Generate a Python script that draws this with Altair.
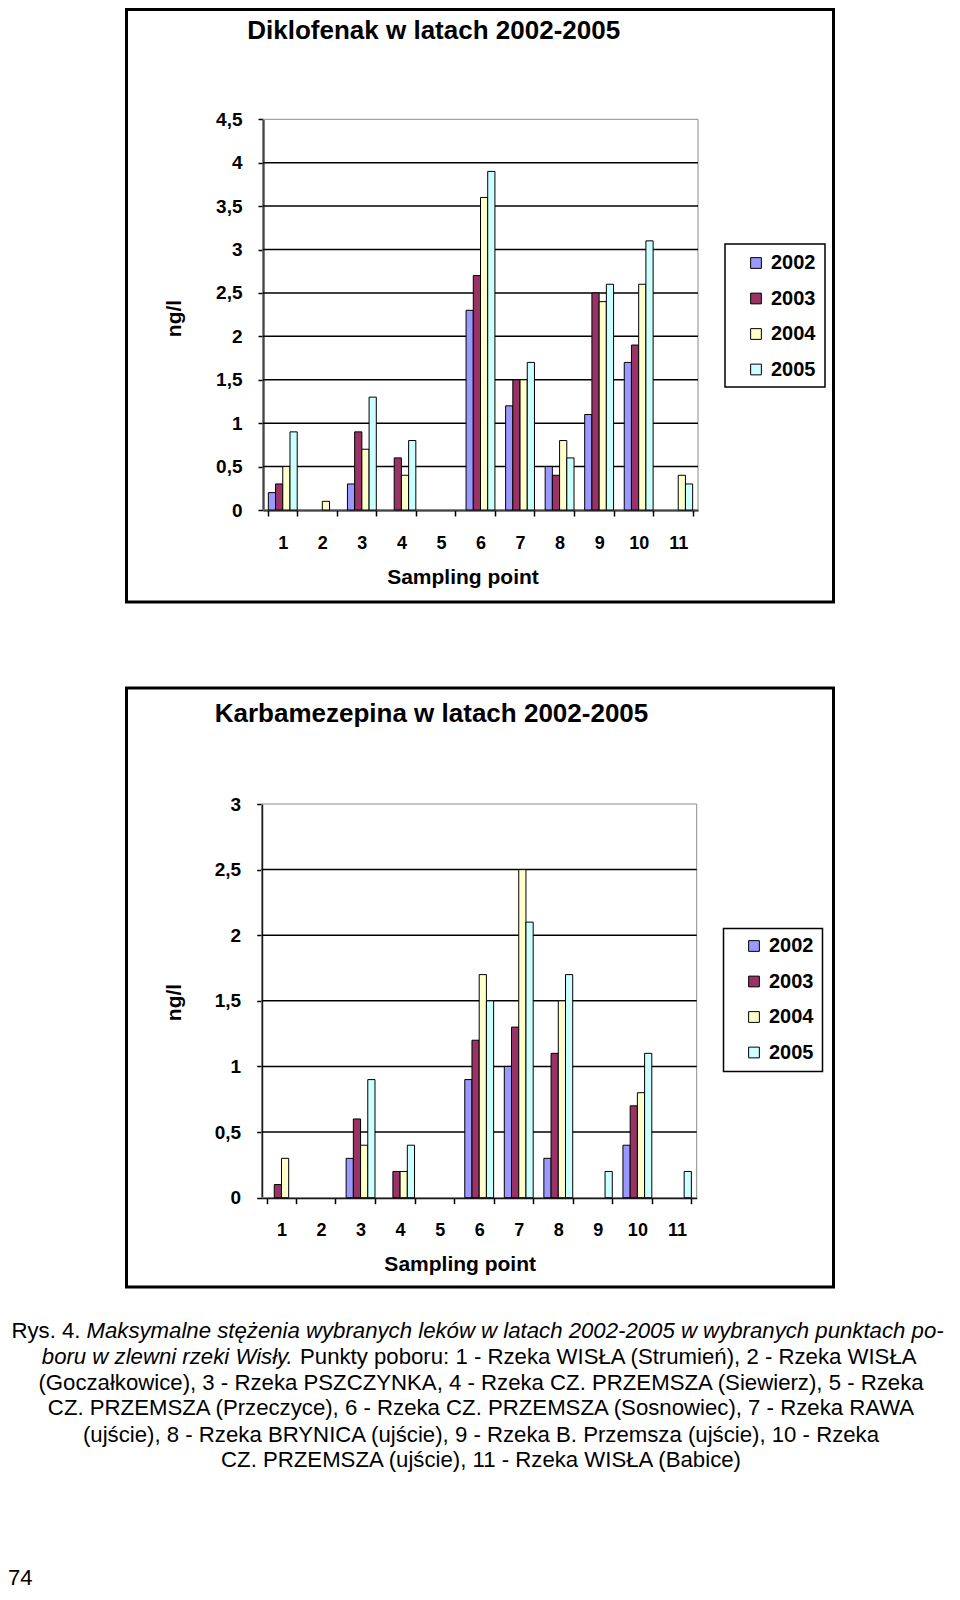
import altair as alt
import pandas as pd

# ---------------- data ----------------
points = ["1", "2", "3", "4", "5", "6", "7", "8", "9", "10", "11"]
years = ["2002", "2003", "2004", "2005"]
year_colors = ["#9999FF", "#993366", "#FFFFCC", "#CCFFFF"]

dik_2002 = [0.2, None, 0.3, None, None, 2.3, 1.2, 0.5, 1.1, 1.7, None]
dik_2003 = [0.3, None, 0.9, 0.6, None, 2.7, 1.5, 0.4, 2.5, 1.9, None]
dik_2004 = [0.5, 0.1, 0.7, 0.4, None, 3.6, 1.5, 0.8, 2.4, 2.6, 0.4]
dik_2005 = [0.9, None, 1.3, 0.8, None, 3.9, 1.7, 0.6, 2.6, 3.1, 0.3]

karb_2002 = [None, None, 0.3, None, None, 0.9, 1.0, 0.3, None, 0.4, None]
karb_2003 = [0.1, None, 0.6, 0.2, None, 1.2, 1.3, 1.1, None, 0.7, None]
karb_2004 = [0.3, None, 0.4, 0.2, None, 1.7, 2.5, 1.5, None, 0.8, None]
karb_2005 = [None, None, 0.9, 0.4, None, 1.5, 2.1, 1.7, 0.2, 1.1, 0.2]

dik_ticks = [0, 0.5, 1, 1.5, 2, 2.5, 3, 3.5, 4, 4.5]
karb_ticks = [0, 0.5, 1, 1.5, 2, 2.5, 3]
dik_grid = [0.5, 1, 1.5, 2, 2.5, 3, 3.5, 4]
karb_grid = [0.5, 1, 1.5, 2, 2.5]

title_dik = "Diklofenak w latach 2002-2005"
title_karb = "Karbamezepina w latach 2002-2005"
y_title = "ng/l"
x_title = "Sampling point"

cap1_a = "Rys. 4."
cap1_b = "Maksymalne stężenia wybranych leków w latach 2002-2005 w wybranych punktach po-"
cap2_a = "boru w zlewni rzeki Wisły."
cap2_b = "Punkty poboru: 1 - Rzeka WISŁA (Strumień), 2 - Rzeka WISŁA"
cap_rest = [
    "(Goczałkowice), 3 - Rzeka PSZCZYNKA, 4 - Rzeka CZ. PRZEMSZA (Siewierz), 5 - Rzeka",
    "CZ. PRZEMSZA (Przeczyce), 6 - Rzeka CZ. PRZEMSZA (Sosnowiec), 7 - Rzeka RAWA",
    "(ujście), 8 - Rzeka BRYNICA (ujście), 9 - Rzeka B. Przemsza (ujście), 10 - Rzeka",
    "CZ. PRZEMSZA (ujście), 11 - Rzeka WISŁA (Babice)",
]
page_no = "74"


def to_long(series):
    rows = []
    for yr, vals in zip(years, series):
        for p, v in zip(points, vals):
            if v is not None:
                rows.append({"point": p, "year": yr, "value": v})
    return pd.DataFrame(rows)


df_dik = to_long([dik_2002, dik_2003, dik_2004, dik_2005])
df_karb = to_long([karb_2002, karb_2003, karb_2004, karb_2005])

# ---------------- layout ----------------
W, H = 944, 1584
FONT = "Liberation Sans"
CAP = 22.2


def one():
    return alt.Data(values=[{"k": 0}])


def box(x0, x1, y0, y1, color, width):
    return alt.Chart(one()).mark_rect(filled=False, color=color, strokeWidth=width).encode(
        x=alt.value(x0), x2=alt.value(x1), y=alt.value(y0), y2=alt.value(y1)
    )


def text(s, x, y, size, weight="normal", style="normal", align="center", baseline="middle"):
    return alt.Chart(alt.Data(values=[{"label": s}])).mark_text(
        font=FONT, fontSize=size, fontWeight=weight, fontStyle=style,
        align=align, baseline=baseline, color="black"
    ).encode(x=alt.value(x), y=alt.value(y), text="label:N")


def grid(vals, x0, x1, yr, ymax):
    return alt.Chart(pd.DataFrame({"v": vals})).mark_rule(color="black", strokeWidth=1.5).encode(
        y=alt.Y("v:Q", scale=alt.Scale(domain=[0, ymax], range=yr, nice=False), axis=None),
        x=alt.value(x0), x2=alt.value(x1),
    )


def bars(df, x0, x1, yr, ymax, ticks, ytx, yty, xtx, lx, ly):
    return alt.Chart(df).mark_bar(stroke="black", strokeWidth=1).encode(
        x=alt.X(
            "point:N",
            scale=alt.Scale(domain=points, range=[x0, x1], paddingInner=0.27, paddingOuter=0.135),
            axis=alt.Axis(
                orient="bottom", offset=yr[0] - H, tickBand="extent", labelAngle=0,
                domainColor="black", domainWidth=2, tickColor="black", tickSize=6, tickWidth=1.5,
                labelFont=FONT, labelFontSize=18, labelFontWeight="bold", labelColor="black",
                labelPadding=18, grid=False,
                title=x_title, titleX=xtx, titleY=67, titleBaseline="middle",
                titleFont=FONT, titleFontSize=21, titleFontWeight="bold", titleColor="black",
            ),
        ),
        xOffset=alt.XOffset("year:N", scale=alt.Scale(domain=years)),
        y=alt.Y(
            "value:Q",
            scale=alt.Scale(domain=[0, ymax], range=yr, nice=False),
            axis=alt.Axis(
                orient="left", offset=-x0, values=ticks,
                labelExpr="replace(format(datum.value, '.1~f'), '.', ',')",
                domainColor="black", domainWidth=2, tickColor="black", tickSize=5, tickWidth=1.5,
                labelFont=FONT, labelFontSize=19, labelFontWeight="bold", labelColor="black",
                labelPadding=16, grid=False,
                title=y_title, titleX=ytx - x0, titleY=yty, titleAngle=270,
                titleBaseline="middle", titleAlign="center",
                titleFont=FONT, titleFontSize=21, titleFontWeight="bold", titleColor="black",
            ),
        ),
        color=alt.Color(
            "year:N",
            scale=alt.Scale(domain=years, range=year_colors),
            legend=alt.Legend(
                orient="none", legendX=lx, legendY=ly, title=None, padding=0,
                symbolType="square", symbolSize=115, symbolStrokeColor="black", symbolStrokeWidth=1,
                labelFont=FONT, labelFontSize=20, labelFontWeight="bold", labelColor="black",
                labelOffset=5, rowPadding=15.5,
            ),
        ),
    )


# chart 1 geometry (canvas coordinates)
c1x0, c1x1 = 255, 690
c1y = [502, 111.3]
# chart 2 geometry
c2x0, c2x1 = 253.7, 688.7
c2y = [1189.7, 796]

layers = [
    # frames
    box(118.5, 825.5, 1.5, 594, "black", 3),
    box(118.5, 825.5, 680, 1279, "black", 3),
    # plot area borders
    box(c1x0, c1x1, c1y[1], c1y[0], "#8c8c8c", 1),
    box(c2x0, c2x1, c2y[1], c2y[0], "#8c8c8c", 1),
    # grid lines
    grid(dik_grid, c1x0, c1x1, c1y, 4.5),
    grid(karb_grid, c2x0, c2x1, c2y, 3),
    # bars
    bars(df_dik, c1x0, c1x1, c1y, 4.5, dik_ticks, 166, 310, 454.5, 738, 245),
    bars(df_karb, c2x0, c2x1, c2y, 3, karb_ticks, 166, 994, 451.7, 736, 928),
    # legend boxes
    box(717, 817, 236, 379, "black", 1.5),
    box(715.5, 814.5, 920.6, 1063.5, "black", 1.5),
    # chart titles
    text(title_dik, 425.7, 22.6, 26, weight="bold"),
    text(title_karb, 423.5, 706, 26, weight="bold"),
    # caption
    text(cap1_a, 72.5, 1322.6, CAP, align="right"),
    text(cap1_b, 78.5, 1322.6, CAP, style="italic", align="left"),
    text(cap2_a, 284.7, 1349.1, CAP, style="italic", align="right"),
    text(cap2_b, 292, 1349.1, CAP, align="left"),
]
cap_y = [1374.6, 1400.2, 1426.7, 1452.2]
for s, yy in zip(cap_rest, cap_y):
    layers.append(text(s, 473, yy, CAP))
layers.append(text(page_no, 0, 1577, 22, align="left", baseline="alphabetic"))

chart = alt.layer(*layers).resolve_scale(
    x="independent", y="independent", xOffset="independent", color="independent"
).resolve_axis(x="independent", y="independent").resolve_legend(color="independent").properties(
    width=W, height=H, autosize=alt.AutoSizeParams(type="none"), padding=0, background="white"
).configure_view(stroke=None)

chart.save("out.html", embed_options={"renderer": "svg", "actions": False})
